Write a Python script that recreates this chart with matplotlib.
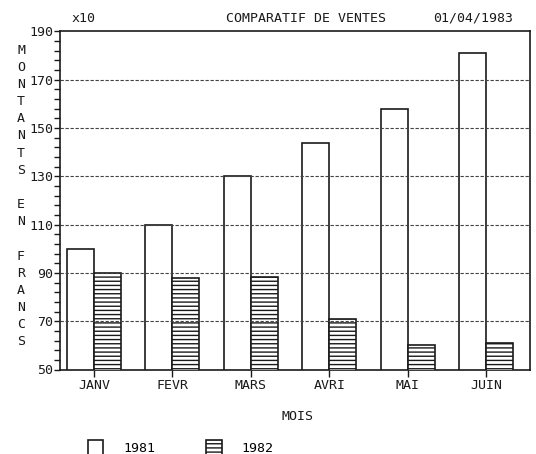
import matplotlib
matplotlib.use('Agg')
import matplotlib.pyplot as plt
import numpy as np

months = ["JANV", "FEVR", "MARS", "AVRI", "MAI", "JUIN"]
sales_1981 = [100, 110, 130, 144, 158, 181]
sales_1982 = [90, 88, 88.5, 71, 60, 61]
y_ticks = [50, 70, 90, 110, 130, 150, 170, 190]
series_labels = ["1981", "1982"]

plt.rcParams['font.family'] = ['DejaVu Sans Mono']
plt.rcParams['hatch.linewidth'] = 1.0
FS = 9.5
INK = '#1a1a1a'

W, H = 536, 454
fig = plt.figure(figsize=(W / 100, H / 100), dpi=100)
ax = fig.add_axes([60 / W, (H - 369.5) / H, 470 / W, (369.5 - 31.5) / H])

x = np.arange(len(months))
w = 0.344
b1 = ax.bar(x - w / 2, sales_1981, w, facecolor='none', edgecolor=INK, linewidth=1.2,
            label=series_labels[0], zorder=3)
b2 = ax.bar(x + w / 2, sales_1982, w, facecolor='white', edgecolor=INK, linewidth=1.2,
            hatch='----', label=series_labels[1], zorder=3)

ax.set_xlim(-0.434, 5.56)
ax.set_ylim(50, 190)
ax.set_yticks(y_ticks)
ax.set_yticklabels([str(v) for v in y_ticks], fontsize=FS, color=INK)
ax.set_yticks(np.arange(50, 191, 4), minor=True)
ax.tick_params(axis='y', which='major', length=4.5, width=1.0, direction='out', pad=0.5, colors=INK)
ax.tick_params(axis='y', which='minor', length=4, width=1.0, direction='out', colors=INK)
ax.set_xticks(x)
ax.set_xticklabels(months, fontsize=FS, color=INK)
ax.tick_params(axis='x', length=5, width=1.0, direction='out', pad=2, colors=INK)

for s in ax.spines.values():
    s.set_linewidth(1.2)
    s.set_color(INK)

for v in y_ticks[1:-1]:
    ax.axhline(v, color='#444444', linewidth=0.8, linestyle=(0, (3, 1.5)), zorder=4)

fig.text(71 / W, 1 - 18 / H, "x10", fontsize=FS, color=INK, va='center', ha='left')
fig.text(306 / W, 1 - 18 / H, "COMPARATIF DE VENTES", fontsize=FS, color=INK, va='center', ha='center')
fig.text(513 / W, 1 - 18 / H, "01/04/1983", fontsize=FS, color=INK, va='center', ha='right')
fig.text(297 / W, 1 - 416 / H, "MOIS", fontsize=FS, color=INK, va='center', ha='center')
fig.text(21 / W, 1 - 196 / H, "M\nO\nN\nT\nA\nN\nT\nS\n\nE\nN\n\nF\nR\nA\nN\nC\nS",
         fontsize=FS, color=INK, va='center', ha='center', linespacing=1.415)

fig.legend(handles=[b1, b2], labels=series_labels, loc='center left',
           bbox_to_anchor=(88 / W, 1 - 448 / H), ncol=2, frameon=False, fontsize=FS,
           handlelength=1.15, handleheight=1.4, handletextpad=1.5, columnspacing=3.9,
           borderpad=0, borderaxespad=0)

fig.savefig('out.png', dpi=100)
